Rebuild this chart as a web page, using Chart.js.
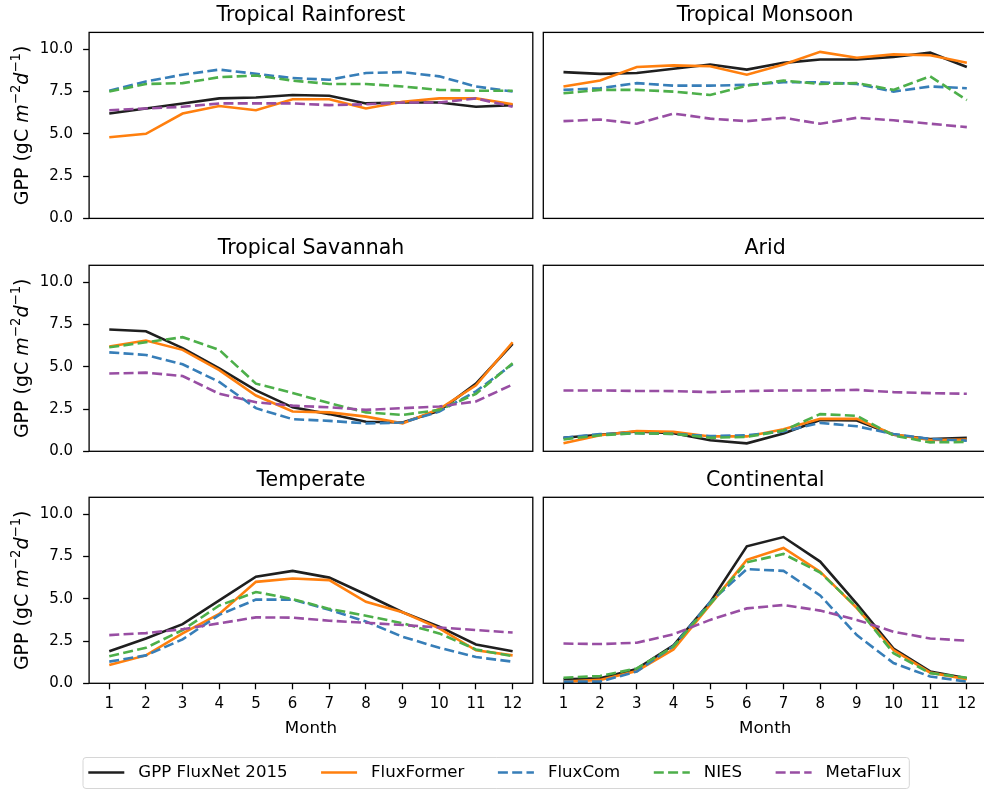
<!DOCTYPE html>
<html>
<head>
<meta charset="utf-8">
<script src="https://cdn.jsdelivr.net/npm/chart.js@4.4.0/dist/chart.umd.min.js"></script>
<style>
  html, body { margin: 0; padding: 0; background: #fff; overflow: hidden; width: 984px; height: 790px; }
  canvas { position: absolute; }
</style>
</head>
<body>
<canvas id="p0"></canvas>
<canvas id="p1"></canvas>
<canvas id="p2"></canvas>
<canvas id="p3"></canvas>
<canvas id="p4"></canvas>
<canvas id="p5"></canvas>
<canvas id="legend"></canvas>
<script>
// months and labels
const months = [1, 2, 3, 4, 5, 6, 7, 8, 9, 10, 11, 12];
const yTicks = [0, 2.5, 5, 7.5, 10];
const yTickLabels = ['0.0', '2.5', '5.0', '7.5', '10.0'];
const panelTitles = ['Tropical Rainforest', 'Tropical Monsoon', 'Tropical Savannah', 'Arid', 'Temperate', 'Continental'];
const seriesNames = ['GPP FluxNet 2015', 'FluxFormer', 'FluxCom', 'NIES', 'MetaFlux'];
const seriesColors = ['rgba(0,0,0,0.88)', '#ff7f0e', '#377eb8', '#4daf4a', '#984ea3'];
const seriesDashed = [false, false, true, true, true];

// Tropical Rainforest
const rainforestFluxNet = [6.2, 6.5, 6.8, 7.1, 7.15, 7.3, 7.25, 6.8, 6.85, 6.85, 6.6, 6.7];
const rainforestFluxFormer = [4.8, 5.0, 6.2, 6.65, 6.4, 7.05, 7.05, 6.5, 6.9, 7.1, 7.1, 6.75];
const rainforestFluxCom = [7.55, 8.1, 8.5, 8.8, 8.55, 8.3, 8.2, 8.6, 8.65, 8.4, 7.8, 7.5];
const rainforestNIES = [7.5, 7.95, 8.0, 8.35, 8.45, 8.15, 7.95, 7.95, 7.8, 7.6, 7.55, 7.55];
const rainforestMetaFlux = [6.4, 6.5, 6.6, 6.8, 6.8, 6.8, 6.7, 6.75, 6.85, 6.85, 7.1, 6.6];

// Tropical Monsoon
const monsoonFluxNet = [8.65, 8.55, 8.6, 8.85, 9.1, 8.8, 9.2, 9.4, 9.4, 9.55, 9.8, 8.95];
const monsoonFluxFormer = [7.8, 8.15, 8.95, 9.05, 9.0, 8.5, 9.1, 9.85, 9.5, 9.7, 9.65, 9.2];
const monsoonFluxCom = [7.6, 7.7, 8.0, 7.85, 7.85, 7.9, 8.05, 8.05, 7.95, 7.5, 7.8, 7.7];
const monsoonNIES = [7.4, 7.6, 7.6, 7.5, 7.3, 7.85, 8.15, 7.95, 8.0, 7.6, 8.4, 7.0];
const monsoonMetaFlux = [5.75, 5.85, 5.6, 6.2, 5.9, 5.75, 5.95, 5.6, 5.95, 5.8, 5.6, 5.4];

// Tropical Savannah
const savannahFluxNet = [7.2, 7.1, 6.1, 4.9, 3.6, 2.6, 2.2, 1.75, 1.7, 2.4, 4.0, 6.35];
const savannahFluxFormer = [6.2, 6.55, 6.0, 4.8, 3.3, 2.35, 2.3, 2.05, 1.65, 2.5, 3.9, 6.45];
const savannahFluxCom = [5.85, 5.7, 5.15, 4.1, 2.55, 1.9, 1.8, 1.65, 1.7, 2.35, 3.55, 5.15];
const savannahNIES = [6.15, 6.45, 6.75, 6.0, 4.0, 3.45, 2.85, 2.3, 2.15, 2.45, 3.4, 5.2];
const savannahMetaFlux = [4.6, 4.65, 4.45, 3.4, 2.9, 2.7, 2.6, 2.45, 2.55, 2.65, 2.95, 3.95];

// Arid
const aridFluxNet = [0.8, 0.98, 1.17, 1.07, 0.65, 0.47, 1.05, 1.85, 1.82, 0.98, 0.73, 0.8];
const aridFluxFormer = [0.48, 0.95, 1.2, 1.15, 0.88, 0.88, 1.3, 1.92, 1.92, 1.0, 0.67, 0.7];
const aridFluxCom = [0.8, 1.02, 1.07, 1.03, 0.9, 0.95, 1.17, 1.68, 1.48, 1.02, 0.73, 0.63];
const aridNIES = [0.7, 0.95, 1.07, 1.03, 0.8, 0.85, 1.23, 2.2, 2.1, 0.93, 0.53, 0.55];
const aridMetaFlux = [3.6, 3.6, 3.57, 3.56, 3.5, 3.56, 3.6, 3.6, 3.63, 3.5, 3.44, 3.4];

// Temperate
const temperateFluxNet = [1.9, 2.65, 3.5, 4.9, 6.3, 6.65, 6.25, 5.25, 4.2, 3.35, 2.3, 1.9];
const temperateFluxFormer = [1.08, 1.65, 2.95, 4.1, 6.0, 6.2, 6.1, 4.82, 4.2, 3.25, 1.95, 1.65];
const temperateFluxCom = [1.28, 1.65, 2.6, 4.05, 4.95, 4.95, 4.35, 3.65, 2.75, 2.1, 1.55, 1.28];
const temperateNIES = [1.6, 2.1, 3.15, 4.6, 5.4, 4.98, 4.4, 4.0, 3.55, 2.95, 2.0, 1.6];
const temperateMetaFlux = [2.85, 2.97, 3.2, 3.55, 3.9, 3.88, 3.7, 3.58, 3.45, 3.3, 3.15, 3.0];

// Continental
const continentalFluxNet = [0.24, 0.3, 0.85, 2.25, 4.8, 8.1, 8.65, 7.2, 4.7, 2.05, 0.7, 0.3];
const continentalFluxFormer = [0.1, 0.2, 0.73, 2.0, 4.65, 7.3, 8.0, 6.6, 4.45, 1.97, 0.63, 0.24];
const continentalFluxCom = [0.1, 0.1, 0.7, 2.2, 4.8, 6.75, 6.65, 5.2, 2.85, 1.2, 0.4, 0.1];
const continentalNIES = [0.33, 0.43, 0.88, 2.17, 4.7, 7.15, 7.65, 6.55, 4.5, 1.78, 0.6, 0.33];
const continentalMetaFlux = [2.35, 2.32, 2.4, 2.9, 3.75, 4.43, 4.63, 4.3, 3.75, 3.05, 2.65, 2.52];

const panelSeries = [
    [rainforestFluxNet, rainforestFluxFormer, rainforestFluxCom, rainforestNIES, rainforestMetaFlux],
    [monsoonFluxNet, monsoonFluxFormer, monsoonFluxCom, monsoonNIES, monsoonMetaFlux],
    [savannahFluxNet, savannahFluxFormer, savannahFluxCom, savannahNIES, savannahMetaFlux],
    [aridFluxNet, aridFluxFormer, aridFluxCom, aridNIES, aridMetaFlux],
    [temperateFluxNet, temperateFluxFormer, temperateFluxCom, temperateNIES, temperateMetaFlux],
    [continentalFluxNet, continentalFluxFormer, continentalFluxCom, continentalNIES, continentalMetaFlux]
];

// y label pieces: plain, italic, superscript
const yLabelParts = [
    { text: 'GPP (gC ', style: 'normal' },
    { text: 'm', style: 'italic' },
    { text: '\u22122', style: 'sup' },
    { text: 'd', style: 'italic' },
    { text: '\u22121', style: 'sup' },
    { text: ')', style: 'normal' }
];

const FONT = '"DejaVu Sans", sans-serif';
const tickSize = 15;
const titleSize = 20.5;
const labelSize = 16.7;
const yLabelSize = 19;
const legendSize = 16.6;

// layout of the 3x2 grid (plot areas)
const plotW = 443.7, plotH = 186;
const colLeft = [89.1, 543.3];
const rowTop = [32.4, 265.3, 497.3];
const dash = [10, 4.3];

// axes box like matplotlib spines
const boxPlugin = {
    id: 'spines',
    afterDraw(chart) {
        const { ctx, chartArea: a } = chart;
        ctx.save();
        ctx.strokeStyle = '#000';
        ctx.lineWidth = 1.3;
        ctx.strokeRect(a.left, a.top, a.right - a.left, a.bottom - a.top);
        ctx.restore();
    }
};

// rotated y label with italic / superscript parts
const yLabelPlugin = {
    id: 'gppLabel',
    afterDraw(chart) {
        const { ctx, chartArea: a } = chart;
        const fonts = {
            normal: yLabelSize + 'px ' + FONT,
            italic: 'italic ' + yLabelSize + 'px ' + FONT,
            sup: (yLabelSize * 0.7) + 'px ' + FONT
        };
        ctx.save();
        let total = 0;
        const widths = yLabelParts.map(p => {
            ctx.font = fonts[p.style];
            const w = ctx.measureText(p.text).width;
            total += w;
            return w;
        });
        ctx.translate(28, (a.top + a.bottom) / 2);
        ctx.rotate(-Math.PI / 2);
        ctx.fillStyle = '#000';
        ctx.textBaseline = 'alphabetic';
        let x = -total / 2;
        yLabelParts.forEach((p, i) => {
            ctx.font = fonts[p.style];
            ctx.fillText(p.text, x, p.style === 'sup' ? -yLabelSize * 0.42 : 0);
            x += widths[i];
        });
        ctx.restore();
    }
};

function makePanel(idx) {
    const r = Math.floor(idx / 2), c = idx % 2;
    const wantL = c === 0 ? colLeft[0] : 10;
    const canvasLeft = Math.round(colLeft[c] - wantL);
    const padL = colLeft[c] - canvasLeft;
    const canvasTop = Math.floor(rowTop[r] - 36);
    const padT = rowTop[r] - canvasTop;
    const height = Math.ceil(padT + plotH + (r === 2 ? 60 : 30));
    const padB = height - padT - plotH;
    const width = Math.ceil(padL + plotW + 4);
    const padR = width - padL - plotW;

    const el = document.getElementById('p' + idx);
    el.width = width;
    el.height = height;
    el.style.left = canvasLeft + 'px';
    el.style.top = canvasTop + 'px';

    const titleLH = titleSize * 1.2;
    const titleBottom = 17 - titleLH / 2;
    const titleTop = padT - titleLH - titleBottom;
    const labelLH = labelSize * 1.2;
    const monthPadBottom = (rowTop[r] + plotH + padB) - labelLH / 2 - 728.5;

    const showY = c === 0;
    const showX = r === 2;

    const datasets = panelSeries[idx].map((vals, i) => ({
        label: seriesNames[i],
        data: vals.map((v, k) => ({ x: months[k], y: v })),
        borderColor: seriesColors[i],
        backgroundColor: seriesColors[i],
        borderWidth: 2.6,
        borderDash: seriesDashed[i] ? dash : [],
        pointRadius: 0,
        tension: 0,
        order: seriesNames.length - i
    }));

    new Chart(el, {
        type: 'line',
        data: { datasets },
        options: {
            responsive: false,
            animation: false,
            events: [],
            layout: { padding: { left: 0, top: 0, right: padR, bottom: 0 } },
            plugins: {
                legend: { display: false },
                tooltip: { enabled: false },
                title: {
                    display: true,
                    text: panelTitles[idx],
                    fullSize: false,
                    color: '#000',
                    font: { family: FONT, size: titleSize, weight: 'normal' },
                    padding: { top: titleTop, bottom: titleBottom }
                }
            },
            scales: {
                x: {
                    type: 'linear',
                    min: 0.45,
                    max: 12.55,
                    afterBuildTicks: s => { s.ticks = months.map(v => ({ value: v })); },
                    afterFit: s => { s.height = padB; },
                    grid: { display: showX, drawOnChartArea: false, drawTicks: true, tickLength: 6, tickColor: '#000', tickWidth: 1.3 },
                    border: { display: false },
                    ticks: { display: showX, color: '#000', padding: 6, maxRotation: 0, autoSkip: false, font: { family: FONT, size: tickSize } },
                    title: {
                        display: showX,
                        text: 'Month',
                        color: '#000',
                        font: { family: FONT, size: labelSize },
                        padding: { top: 0, bottom: monthPadBottom }
                    }
                },
                y: {
                    min: 0,
                    max: 11,
                    afterBuildTicks: s => { s.ticks = yTicks.map(v => ({ value: v })); },
                    afterFit: s => { s.width = padL; },
                    grid: { display: showY, drawOnChartArea: false, drawTicks: true, tickLength: 6, tickColor: '#000', tickWidth: 1.3 },
                    border: { display: false },
                    ticks: {
                        display: showY,
                        color: '#000',
                        padding: 10,
                        font: { family: FONT, size: tickSize },
                        callback: (v, i) => yTickLabels[i]
                    }
                }
            }
        },
        plugins: showY ? [boxPlugin, yLabelPlugin] : [boxPlugin]
    });
}

for (let i = 0; i < 6; i++) makePanel(i);

// legend drawn along the bottom
const legendPlugin = {
    id: 'bottomLegend',
    afterDraw(chart) {
        const ctx = chart.ctx;
        const top = 745;
        const cy = 772.5 - top;
        ctx.save();
        ctx.font = legendSize + 'px ' + FONT;
        let x = 88.3;
        const items = chart.data.datasets.map(ds => {
            const w = ctx.measureText(ds.label).width;
            const item = { ds, x, w };
            x += 36 + 14 + w + 33.5;
            return item;
        });
        const last = items[items.length - 1];
        const right = last.x + 50 + last.w + 8;
        ctx.beginPath();
        ctx.roundRect(83, 757.5 - top, right - 83, 31, 3);
        ctx.fillStyle = 'rgba(255,255,255,0.8)';
        ctx.fill();
        ctx.strokeStyle = '#d6d6d6';
        ctx.lineWidth = 1;
        ctx.stroke();
        items.forEach(it => {
            ctx.beginPath();
            ctx.setLineDash(it.ds.borderDash);
            ctx.strokeStyle = it.ds.borderColor;
            ctx.lineWidth = it.ds.borderWidth;
            ctx.moveTo(it.x, cy);
            ctx.lineTo(it.x + 36, cy);
            ctx.stroke();
            ctx.setLineDash([]);
            ctx.fillStyle = '#000';
            ctx.textBaseline = 'middle';
            ctx.fillText(it.ds.label, it.x + 50, cy);
        });
        ctx.restore();
    }
};

const lg = document.getElementById('legend');
lg.width = 984;
lg.height = 45;
lg.style.left = '0px';
lg.style.top = '745px';
new Chart(lg, {
    type: 'line',
    data: {
        datasets: seriesNames.map((name, i) => ({
            label: name,
            data: [],
            borderColor: seriesColors[i],
            borderWidth: 2.6,
            borderDash: seriesDashed[i] ? dash : []
        }))
    },
    options: {
        responsive: false,
        animation: false,
        events: [],
        plugins: { legend: { display: false }, tooltip: { enabled: false } },
        scales: { x: { display: false }, y: { display: false } }
    },
    plugins: [legendPlugin]
});
</script>
</body>
</html>
